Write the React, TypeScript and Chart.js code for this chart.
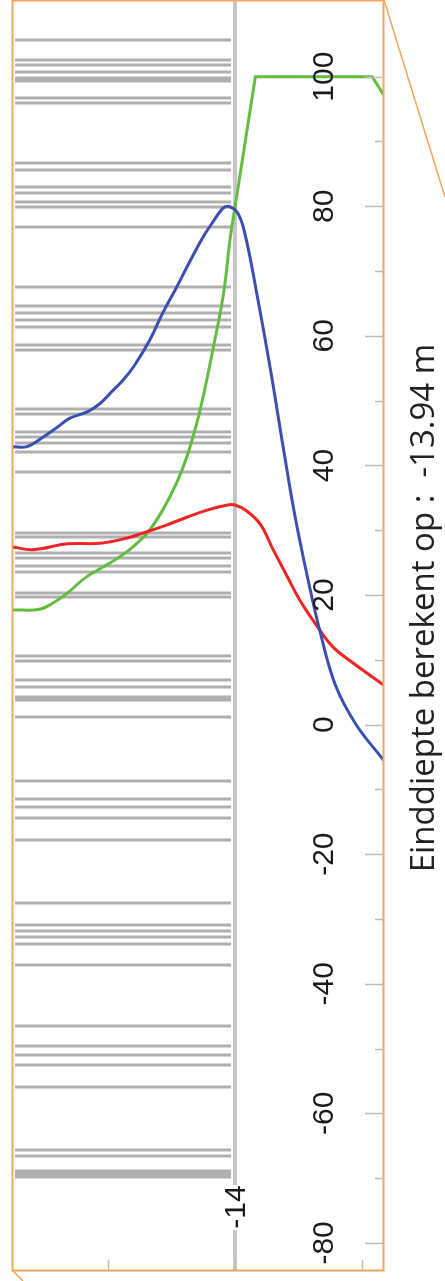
import React, { useEffect, useRef } from "react";
import { Chart, registerables } from "chart.js";

Chart.register(...registerables);

// ---- axis ranges ----
const depthShallow = -12.244; // left edge (m)
const depthDeep = -15.165; // right edge (m)
const valueMin = -84.18;
const valueMax = 111.84;

// ---- tick labels ----
const valueTicks = [100, 80, 60, 40, 20, 0, -20, -40, -60, -80];
const valueMinorTicks = [90, 70, 50, 30, 10, -10, -30, -50, -70];
const depthTicks = [-13, -14, -15];
const finalDepthLabel = "-14";
const finalDepth = -14;
const titleText = "Einddiepte berekent op :  -13.94 m";

// ---- series ----
const blueDepths = [-12.25, -12.36, -12.49, -12.6, -12.7, -12.84, -12.94, -13.02, -13.11, -13.2, -13.33, -13.43, -13.54, -13.65, -13.75, -13.83, -13.9, -13.945, -14.02, -14.08, -14.18, -14.28, -14.37, -14.47, -14.58, -14.67, -14.79, -14.95, -15.17];
const blueValues = [42.9, 42.9, 44.4, 45.9, 47.3, 48.3, 49.6, 51.2, 53.0, 55.2, 59.4, 63.5, 67.5, 71.7, 75.3, 77.7, 79.6, 80.0, 79.0, 75.6, 65.6, 54.7, 43.9, 32.4, 21.9, 14.3, 6.1, 0.1, -5.5];

const redDepths = [-12.25, -12.41, -12.68, -12.94, -13.15, -13.28, -13.46, -13.62, -13.78, -13.94, -14.0, -14.09, -14.2, -14.3, -14.41, -14.51, -14.65, -14.77, -14.93, -15.17];
const redValues = [27.4, 27.0, 27.9, 28.0, 28.8, 29.6, 30.8, 32.0, 33.1, 33.9, 33.9, 33.0, 30.9, 27.0, 22.9, 19.2, 15.1, 12.0, 9.5, 6.1];

const greenDepths = [-12.25, -12.46, -12.57, -12.68, -12.83, -13.02, -13.17, -13.31, -13.43, -13.54, -13.62, -13.7, -13.76, -13.83, -13.91, -13.96, -14.0];
const greenValues = [17.7, 17.8, 18.8, 20.3, 22.8, 25.0, 27.0, 29.6, 33.1, 37.3, 41.3, 46.6, 51.6, 58.3, 66.6, 74.8, 79.9];
const greenPlateauDepths = [-14.0, -14.16, -15.08, -15.17];
const greenPlateauValues = [79.9, 100, 100, 97.2];

// ---- layer stripes ----
const layerTop = -12.268;
const layerBottom = -13.969;
const layerValues = [105.66, 102.58, 101.81, 100.73, 99.8, 99.34, 96.71, 95.94, 86.68, 85.6, 82.98, 82.05, 80.66, 79.89, 76.8, 67.54, 64.61, 63.53, 62.45, 61.37, 58.59, 57.82, 48.71, 47.94, 45.16, 44.39, 43.46, 42.07, 38.99, 29.57, 28.96, 26.49, 25.72, 24.48, 23.55, 20.31, 19.69, 10.59, 9.82, 6.88, 5.8, 4.26, 3.8, 1.17, -8.7, -11.48, -12.72, -14.42, -17.81, -27.53, -30.93, -31.86, -32.78, -33.86, -37.1, -46.52, -49.6, -50.99, -52.54, -55.93, -65.65, -66.57, -68.89, -69.35, -69.82];

const pts = (xs: number[], ys: number[]) => xs.map((x, i) => ({ x, y: ys[i] }));

const decorPlugin = {
  id: "decor",
  afterDraw(chart: any) {
    const ctx = chart.ctx as CanvasRenderingContext2D;
    const { left, right, top, bottom } = chart.chartArea;
    const ys = chart.scales.y;
    const xs = chart.scales.x;
    ctx.save();

    // value ticks (inward, right edge)
    ctx.strokeStyle = "#bdbdbd";
    ctx.lineWidth = 1.5;
    valueTicks.forEach((v) => {
      const py = Math.round(ys.getPixelForValue(v)) + 0.5;
      ctx.beginPath();
      ctx.moveTo(right - 18, py);
      ctx.lineTo(right, py);
      ctx.stroke();
    });
    valueMinorTicks.forEach((v) => {
      const py = Math.round(ys.getPixelForValue(v)) + 0.5;
      ctx.beginPath();
      ctx.moveTo(right - 8, py);
      ctx.lineTo(right, py);
      ctx.stroke();
    });
    // depth ticks (bottom edge, inward)
    depthTicks.forEach((d) => {
      const px = Math.round(xs.getPixelForValue(d)) + 0.5;
      ctx.beginPath();
      ctx.moveTo(px, bottom - 10);
      ctx.lineTo(px, bottom);
      ctx.stroke();
    });

    // value labels (rotated)
    ctx.fillStyle = "#1a1a1a";
    ctx.font = '30px "Liberation Sans", Arial, sans-serif';
    ctx.textAlign = "center";
    ctx.textBaseline = "alphabetic";
    valueTicks.forEach((v) => {
      const py = ys.getPixelForValue(v);
      ctx.save();
      ctx.translate(right - 50, py);
      ctx.rotate(-Math.PI / 2);
      ctx.fillText(String(v), 0, 0);
      ctx.restore();
    });

    // final depth label with white background
    const fx = xs.getPixelForValue(finalDepth);
    const ly = bottom - 63;
    ctx.fillStyle = "#ffffff";
    ctx.fillRect(fx - 11, ly - 22, 22, 45);
    ctx.fillStyle = "#1a1a1a";
    ctx.save();
    ctx.translate(fx + 10, ly);
    ctx.rotate(-Math.PI / 2);
    ctx.fillText(finalDepthLabel, 0, 0);
    ctx.restore();

    // orange frame
    ctx.strokeStyle = "#f5a65c";
    ctx.lineWidth = 2;
    ctx.strokeRect(left + 0.5, top + 0.5, right - left, bottom - top);
    ctx.lineWidth = 1.5;
    ctx.beginPath();
    ctx.moveTo(right + 1, top);
    ctx.lineTo(right + 62, top + 197);
    ctx.moveTo(left, bottom);
    ctx.lineTo(left + 11, bottom + 11);
    ctx.stroke();

    // title (rotated)
    ctx.fillStyle = "#222222";
    ctx.font = '33px "Open Sans", sans-serif';
    ctx.textAlign = "center";
    ctx.save();
    ctx.translate(right + 51, 608);
    ctx.rotate(-Math.PI / 2);
    ctx.fillText(titleText, 0, 0);
    ctx.restore();

    ctx.restore();
  },
};

export default function App() {
  const canvasRef = useRef<HTMLCanvasElement | null>(null);

  useEffect(() => {
    const canvas = canvasRef.current;
    if (!canvas) return;
    const layerData = layerValues.flatMap((v) => [
      { x: layerTop, y: v },
      { x: layerBottom, y: v },
      { x: layerBottom, y: null as any },
    ]);
    const curve = (label: string, data: any[], color: string, tension: number) => ({
      label,
      data,
      borderColor: color,
      borderWidth: 3,
      pointRadius: 0,
      tension,
      order: 0,
    });
    const chart = new Chart(canvas, {
      type: "line",
      data: {
        datasets: [
          curve("blue", pts(blueDepths, blueValues), "#3b4fb2", 0.4),
          curve("red", pts(redDepths, redValues), "#ef2424", 0.4),
          curve("green", pts(greenDepths, greenValues), "#63bd40", 0.4),
          curve("green plateau", pts(greenPlateauDepths, greenPlateauValues), "#63bd40", 0),
          {
            label: "final depth",
            data: [
              { x: finalDepth, y: valueMax },
              { x: finalDepth, y: valueMin },
            ],
            borderColor: "#c6c6c6",
            borderWidth: 4,
            pointRadius: 0,
            tension: 0,
            order: 5,
          },
          {
            label: "layers",
            data: layerData,
            borderColor: "#b0b0b0",
            borderWidth: 3,
            pointRadius: 0,
            tension: 0,
            spanGaps: false,
            order: 6,
          },
        ],
      } as any,
      options: {
        animation: false,
        responsive: false,
        devicePixelRatio: 1,
        events: [],
        layout: { padding: { left: 12, right: 62, top: 0, bottom: 11 } },
        plugins: { legend: { display: false }, tooltip: { enabled: false } },
        scales: {
          x: { type: "linear", display: false, reverse: true, min: depthDeep, max: depthShallow },
          y: { type: "linear", display: false, min: valueMin, max: valueMax },
        },
      } as any,
      plugins: [decorPlugin],
    });
    return () => chart.destroy();
  }, []);

  return (
    <div style={{ position: "absolute", left: 0, top: 0, width: 445, height: 1281, background: "#fff" }}>
      <canvas ref={canvasRef} width={445} height={1281} style={{ width: 445, height: 1281, display: "block" }} />
    </div>
  );
}
